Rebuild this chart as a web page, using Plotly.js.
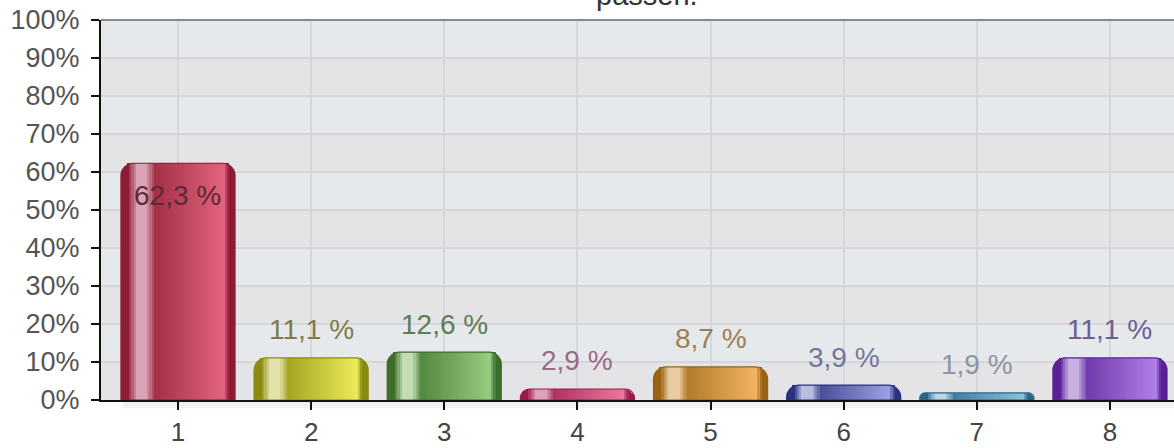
<!DOCTYPE html>
<html>
<head>
<meta charset="utf-8">
<script src="https://cdn.plot.ly/plotly-3.0.1.min.js"></script>
<style>html,body{margin:0;padding:0;background:#fff;}#chart{width:1174px;height:448px;}</style>
</head>
<body>
<div id="chart"></div>
<script>
// ---- data ----
const categories = [1, 2, 3, 4, 5, 6, 7, 8];
const tickLabels = ['1', '2', '3', '4', '5', '6', '7', '8'];
const values = [62.3, 11.1, 12.6, 2.9, 8.7, 3.9, 1.9, 11.1];
const valueLabels = ['62,3 %', '11,1 %', '12,6 %', '2,9 %', '8,7 %', '3,9 %', '1,9 %', '11,1 %'];
const yTickVals = [0, 10, 20, 30, 40, 50, 60, 70, 80, 90, 100];
const yTickText = ['0%', '10%', '20%', '30%', '40%', '50%', '60%', '70%', '80%', '90%', '100%'];
const titleText = 'passen.';

// ---- styles ----
const darkColors = ['#8c1c34', '#8a8a10', '#3c6e2a', '#9a1a4a', '#9a6214', '#2a3280', '#2c6488', '#5a2096'];
const lightColors = ['#e2637c', '#eaea58', '#96cc80', '#e878a0', '#f2b464', '#9aa0e0', '#88c0d8', '#b07ee4'];
const highlightColors = ['#d9a3b3', '#e2e2a8', '#c4dcb4', '#e0a0b8', '#e8cca0', '#b8bce0', '#b8d8e8', '#c8b0e0'];
const labelColors = ['#5c2a36', '#7c7c48', '#5e7c56', '#9a6a86', '#9c7e58', '#72789a', '#8a96a4', '#6c5e96'];

const BW = 0.857;
const FONT = 'Liberation Sans, Arial, Helvetica, sans-serif';

function hex2rgb(h) { h = h.replace('#', ''); return [0, 2, 4].map(i => parseInt(h.substr(i, 2), 16)); }
function mix(a, b, t) {
  const A = hex2rgb(a), B = hex2rgb(b);
  const c = A.map((v, i) => Math.round(v + (B[i] - v) * t));
  return 'rgb(' + c.join(',') + ')';
}
function mixHex(a, b, t) {
  const A = hex2rgb(a), B = hex2rgb(b);
  return '#' + A.map((v, i) => Math.round(v + (B[i] - v) * t).toString(16).padStart(2, '0')).join('');
}
function colorAt(f, D, L, H) {
  const M0 = mixHex(D, L, 0.28);
  if (f < 0.06) return mix(D, D, 0);
  if (f < 0.14) return mix(D, H, (f - 0.06) / 0.08);
  if (f < 0.22) return mix(H, H, 0);
  if (f < 0.30) return mix(H, M0, (f - 0.22) / 0.08);
  if (f < 0.90) return mix(M0, L, (f - 0.30) / 0.60);
  if (f < 0.95) return mix(L, D, (f - 0.90) / 0.05);
  return mix(D, D, 0);
}

const traces = [];
// base bar (dark rim colour, rounded top)
traces.push({
  type: 'bar', x: categories, y: values, width: BW,
  marker: { color: darkColors, cornerradius: 13, line: { width: 0 } },
  hoverinfo: 'skip'
});
// vertical gradient stripes (each overlaps the next, later ones drawn on top)
const step = 0.02;
for (let f = 0.05; f < 0.94 - 1e-9; f += step) {
  const last = f + step >= 0.94 - 1e-9;
  traces.push({
    type: 'bar', x: categories, y: values,
    width: last ? step * BW : step * BW * 2,
    offset: -BW / 2 + f * BW,
    marker: { color: categories.map((c, i) => colorAt(f + step / 2, darkColors[i], lightColors[i], highlightColors[i])), line: { width: 0 } },
    hoverinfo: 'skip'
  });
}
// outline on top
traces.push({
  type: 'bar', x: categories, y: values, width: BW,
  marker: { color: 'rgba(0,0,0,0)', cornerradius: 13, line: { width: 1.2, color: darkColors } },
  hoverinfo: 'skip'
});

// alternating background bands
const shapes = [];
for (let i = 0; i < yTickVals.length - 1; i++) {
  if (i % 2 === 0) {
    shapes.push({ type: 'rect', xref: 'paper', yref: 'y', x0: 0, x1: 1, y0: yTickVals[i], y1: yTickVals[i + 1],
      fillcolor: '#e4e4e6', line: { width: 0 }, layer: 'below' });
  }
}
// top border
shapes.push({ type: 'line', xref: 'paper', yref: 'paper', x0: 0, x1: 1, y0: 1, y1: 1, line: { color: '#8a8a8a', width: 2 } });
// shadow under axis
shapes.push({ type: 'rect', xref: 'paper', yref: 'paper', x0: 0.02, x1: 1, y0: -0.022, y1: -0.004, fillcolor: '#f1f1f1', line: { width: 0 }, layer: 'below' });

const annotations = categories.map((c, i) => ({
  x: c, y: values[i], xref: 'x', yref: 'y',
  text: valueLabels[i], showarrow: false,
  yanchor: 'middle', yshift: values[i] > 50 ? -32 : 28,
  font: { family: FONT, size: 28, color: labelColors[i] }
}));
annotations.push({
  x: 0.509, y: 1, xref: 'paper', yref: 'paper', text: titleText, showarrow: false,
  yanchor: 'bottom', yshift: 7, font: { family: FONT, size: 29, color: '#333' }
});

const layout = {
  width: 1174, height: 448,
  margin: { l: 101, r: 0, t: 20, b: 48, pad: 0 },
  paper_bgcolor: '#ffffff', plot_bgcolor: '#e6e9ec',
  barmode: 'overlay', bargap: 0, showlegend: false,
  xaxis: {
    range: [0.4217, 8.481], tickvals: categories, ticktext: tickLabels,
    showgrid: true, gridcolor: '#d6d6d6', gridwidth: 2, zeroline: false,
    showline: true, linecolor: '#111', linewidth: 2,
    ticks: 'outside', ticklen: 8, tickwidth: 2, tickcolor: '#111',
    tickfont: { family: FONT, size: 26, color: '#444' }, fixedrange: true
  },
  yaxis: {
    range: [0, 100], tickvals: yTickVals, ticktext: yTickText,
    showgrid: true, gridcolor: '#d6d6d6', gridwidth: 2, zeroline: false,
    showline: true, linecolor: '#111', linewidth: 2,
    ticks: 'outside', ticklen: 8, tickwidth: 2, tickcolor: '#111',
    ticklabelstandoff: 6,
    tickfont: { family: FONT, size: 27, color: '#555' }, fixedrange: true
  },
  shapes: shapes,
  annotations: annotations
};

Plotly.newPlot('chart', traces, layout, { displayModeBar: false, staticPlot: true });
</script>
</body>
</html>
